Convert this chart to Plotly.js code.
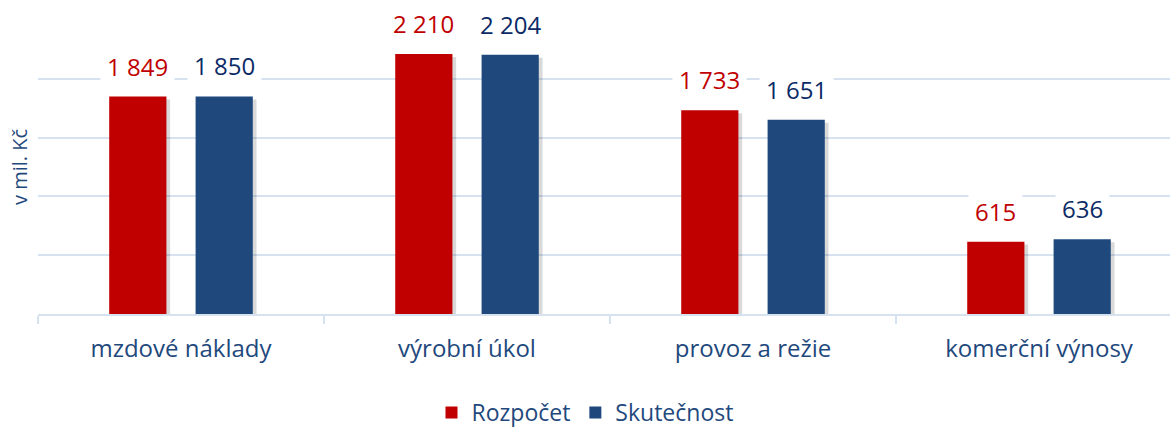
<!DOCTYPE html>
<html>
<head>
<meta charset="utf-8">
<script src="https://cdn.plot.ly/plotly-3.0.1.min.js"></script>
<style>html,body{margin:0;padding:0;background:#fff;}#chart{width:1170px;height:432px;}</style>
</head>
<body>
<div id="chart"></div>
<script>
const categories = ['mzdové náklady', 'výrobní úkol', 'provoz a režie', 'komerční výnosy'];
const rozpocet = [1849, 2210, 1733, 615];
const skutecnost = [1850, 2204, 1651, 636];
const seriesNames = ['Rozpočet', 'Skutečnost'];
const yTitle = 'v mil. Kč';

const RED = '#c00000', BLUE = '#1f497d', LABEL_BLUE = '#0b2a66', TXT = '#1f497d';
const FONT = 'Open Sans, sans-serif';
const fmt = v => String(v).replace(/\B(?=(\d{3})+(?!\d))/g, ' ');

const BW = 0.2, OFF = 0.151;
function shadow(vals, center) {
  return {type: 'bar', x: categories, y: vals.map(v => v - 25), width: BW, offset: center - BW / 2 + 0.013,
    marker: {color: 'rgba(0,0,0,0.15)', line: {width: 0}}, showlegend: false, hoverinfo: 'skip'};
}
const traces = [
  shadow(rozpocet, -OFF), shadow(skutecnost, OFF),
  {type: 'bar', name: seriesNames[0], x: categories, y: rozpocet, width: BW, offset: -OFF - BW / 2,
   marker: {color: RED, line: {width: 0}}},
  {type: 'bar', name: seriesNames[1], x: categories, y: skutecnost, width: BW, offset: OFF - BW / 2,
   marker: {color: BLUE, line: {width: 0}}}
];

const annotations = [];
categories.forEach((c, i) => {
  [[rozpocet, RED, -OFF], [skutecnost, LABEL_BLUE, OFF]].forEach(([arr, col, off]) => {
    annotations.push({x: c, y: arr[i], xref: 'x', yref: 'y', text: fmt(arr[i]), showarrow: false,
      xshift: off * 286, yanchor: 'bottom', yshift: 7, bgcolor: '#ffffff', borderpad: 6,
      font: {family: FONT, size: 24, color: col}});
  });
});

const layout = {
  width: 1170, height: 432,
  margin: {l: 38, r: 0, t: 20, b: 118},
  paper_bgcolor: '#fff', plot_bgcolor: '#fff',
  barmode: 'overlay',
  font: {family: FONT, color: TXT},
  xaxis: {type: 'category', range: [-0.5, 3.458], showgrid: false, showline: true, linecolor: '#d6e2f0', linewidth: 2,
    ticks: 'outside', tickson: 'boundaries', ticklen: 8, tickcolor: '#d6e2f0', tickwidth: 2,
    tickfont: {family: FONT, size: 24, color: TXT}, ticklabelstandoff: 12, fixedrange: true},
  yaxis: {range: [0, 2500], dtick: 500, showticklabels: false, showgrid: true, gridcolor: '#d6e2f0', gridwidth: 2,
    zeroline: false, showline: false, ticks: '',
    title: {text: yTitle, font: {family: FONT, size: 20, color: TXT}, standoff: 4}, fixedrange: true},
  legend: {orientation: 'h', xref: 'container', yref: 'container', x: 0.5, xanchor: 'center', y: 0.045, yanchor: 'middle',
    font: {family: FONT, size: 23, color: TXT}, itemwidth: 20, traceorder: 'normal'},
  annotations: annotations,
  showlegend: true
};

Plotly.newPlot('chart', traces, layout, {displayModeBar: false, staticPlot: true});
</script>
</body>
</html>
